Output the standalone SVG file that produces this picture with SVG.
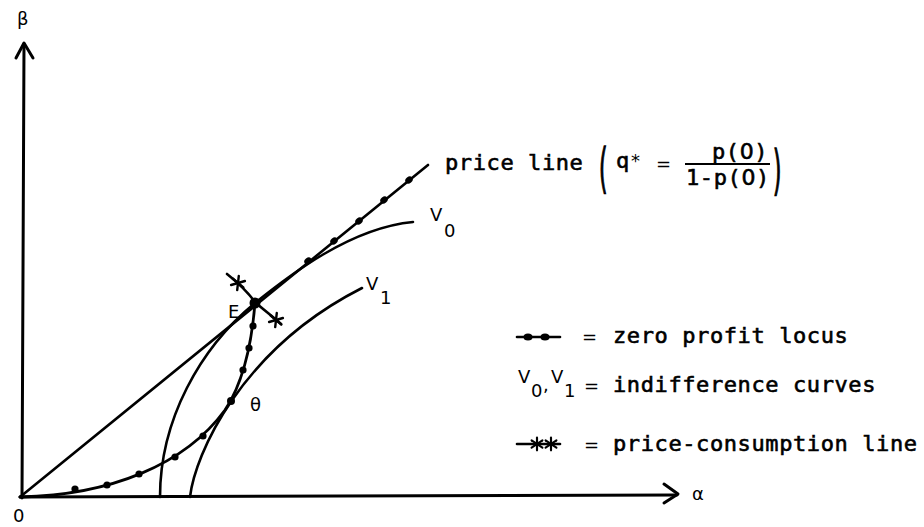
<svg xmlns="http://www.w3.org/2000/svg" width="924" height="527" viewBox="0 0 924 527">
<style>
.ln{fill:none;stroke:#000;stroke-width:2.6;stroke-linecap:round;stroke-linejoin:round}
.ax{fill:none;stroke:#000;stroke-width:3;stroke-linecap:round;stroke-linejoin:round}
.t{font-family:"DejaVu Sans Mono","Liberation Mono",monospace;font-size:22px;letter-spacing:0.6px;fill:#000;stroke:#000;stroke-width:0.6}
.s{font-family:"DejaVu Sans","Liberation Sans",sans-serif;font-size:18px;fill:#000}
.p{font-family:"DejaVu Sans","Liberation Sans",sans-serif;font-size:18px;fill:#000;stroke:#000;stroke-width:0.5}
.z{font-family:"DejaVu Sans","Liberation Sans",sans-serif}
.dot{fill:#000}
</style>
<defs>
<g id="star" class="ln" style="stroke-width:2.4">
<line x1="-7" y1="0" x2="7" y2="0"/>
<line x1="-4" y1="-6" x2="4" y2="6"/>
<line x1="4" y1="-6" x2="-4" y2="6"/>
</g>
</defs>
<rect width="924" height="527" fill="#fff"/>
<g id="axes">
<line class="ax" x1="22" y1="498" x2="24" y2="44"/>
<polyline class="ax" points="16,58 24,43 33,58"/>
<line class="ax" x1="20" y1="497" x2="677" y2="495"/>
<polyline class="ax" points="664,484 678,494 664,503"/>
<text class="s" x="17" y="25">β</text>
<text class="s" x="692" y="500">α</text>
<text class="s" x="13" y="522">0</text>
</g>
<g id="price-line">
<line class="ln" x1="20" y1="497" x2="428" y2="165"/>
<ellipse class="dot" cx="308" cy="261" rx="4" ry="3.2" transform="rotate(-39 308 261)"/>
<ellipse class="dot" cx="334" cy="241" rx="4" ry="3.2" transform="rotate(-39 334 241)"/>
<ellipse class="dot" cx="359" cy="221" rx="4" ry="3.2" transform="rotate(-39 359 221)"/>
<ellipse class="dot" cx="384" cy="200" rx="4" ry="3.2" transform="rotate(-39 384 200)"/>
<ellipse class="dot" cx="409" cy="180" rx="4" ry="3.2" transform="rotate(-39 409 180)"/>
<text class="t" x="445" y="170">price line</text>
<text class="p" transform="translate(599 187) scale(1.2 3)">(</text>
<text class="t" x="616" y="168">q</text>
<text class="s" x="631" y="167">*</text>
<text class="s" x="656" y="170">=</text>
<text class="t" x="712" y="159">p(<tspan class="z">0</tspan>)</text>
<line x1="685" y1="164" x2="770" y2="164" stroke="#000" stroke-width="2"/>
<text class="t" x="686" y="185">1-p(<tspan class="z">0</tspan>)</text>
<text class="p" transform="translate(773 189) scale(1.2 3)">)</text>
</g>
<g id="V0">
<path class="ln" d="M160,497 C160,420 200,348 255,303 C290,275 350,228 413,222"/>
<text class="s" x="430" y="221">V</text>
<text class="s" x="444" y="237">0</text>
</g>
<g id="V1">
<path class="ln" d="M190,497 C195,455 240,350 362,288"/>
<text class="s" x="366" y="290">V</text>
<text class="s" x="380" y="304">1</text>
</g>
<g id="zero-profit-locus">
<path class="ln" style="stroke-width:2.8" d="M20,497 C110,495 185,465 225,410 C245,380 252,340 255,303"/>
<circle class="dot" cx="75" cy="489" r="3.6"/>
<circle class="dot" cx="107" cy="485" r="3.6"/>
<circle class="dot" cx="139" cy="474" r="3.6"/>
<circle class="dot" cx="175" cy="457" r="3.6"/>
<circle class="dot" cx="203" cy="436" r="3.6"/>
<circle class="dot" cx="231" cy="401" r="4"/>
<circle class="dot" cx="243" cy="370" r="3.6"/>
<circle class="dot" cx="249" cy="348" r="3.6"/>
<circle class="dot" cx="253" cy="326" r="3.6"/>
<text class="s" x="250" y="411">θ</text>
</g>
<g id="E">
<path class="ln" d="M227,274 C236,281 246,290 256,303 C264,310 272,316 281,324"/>
<use href="#star" transform="translate(238 283) rotate(40)"/>
<use href="#star" transform="translate(276 320) rotate(40)"/>
<circle class="dot" cx="255" cy="303" r="5.5"/>
<text class="s" x="228" y="318">E</text>
</g>
<g id="legend">
<line class="ln" x1="517" y1="337" x2="560" y2="337"/>
<ellipse class="dot" cx="528" cy="337" rx="4.5" ry="3.5"/>
<ellipse class="dot" cx="545" cy="337" rx="4.5" ry="3.5"/>
<text class="s" x="582" y="343">=</text>
<text class="t" x="613" y="343">zero profit locus</text>
<text class="s" x="518" y="383">V</text>
<text class="s" x="531" y="397">0</text>
<text class="s" x="543" y="391">,</text>
<text class="s" x="551" y="383">V</text>
<text class="s" x="564" y="397">1</text>
<text class="s" x="584" y="392">=</text>
<text class="t" x="613" y="392">indifference curves</text>
<line class="ln" x1="517" y1="444" x2="560" y2="444"/>
<use href="#star" transform="translate(537 444) rotate(90) scale(0.9)"/>
<use href="#star" transform="translate(551 444) rotate(90) scale(0.9)"/>
<text class="s" x="584" y="451">=</text>
<text class="t" x="613" y="451">price-consumption line</text>
</g>
</svg>
